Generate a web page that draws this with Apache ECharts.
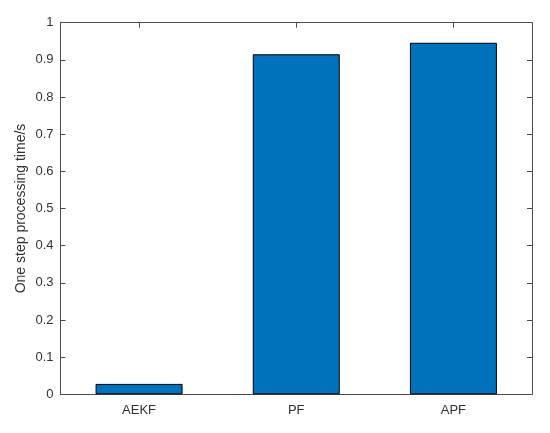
<!DOCTYPE html>
<html>
<head>
<meta charset="utf-8">
<script src="https://cdn.jsdelivr.net/npm/echarts@6/dist/echarts.min.js"></script>
<style>html,body{margin:0;padding:0;background:#fff}#c{width:550px;height:433px}</style>
</head>
<body>
<div id="c"></div>
<script>
const categories = ['AEKF', 'PF', 'APF'];
const values = [0.028, 0.915, 0.946];
const yTicks = [0, 0.1, 0.2, 0.3, 0.4, 0.5, 0.6, 0.7, 0.8, 0.9, 1];
const yLabel = 'One step processing time/s';

const axisColor = '#4d4d4d';
const textColor = '#333333';
const font = 'Liberation Sans, Arial, sans-serif';

const chart = echarts.init(document.getElementById('c'), null, {renderer: 'canvas'});
chart.setOption({
  animation: false,
  backgroundColor: '#ffffff',
  grid: {left: 60.5, right: 18, top: 22.7, bottom: 38.7, containLabel: false},
  xAxis: [
    {
      type: 'category', data: categories, position: 'bottom',
      axisLine: {show: true, onZero: false, lineStyle: {color: axisColor, width: 1}},
      axisTick: {show: true, inside: true, alignWithLabel: true, length: 5, lineStyle: {color: axisColor}},
      axisLabel: {color: textColor, fontSize: 13, fontFamily: font, margin: 10},
      splitLine: {show: false}
    },
    {
      type: 'category', data: categories, position: 'top',
      axisLine: {show: true, onZero: false, lineStyle: {color: axisColor, width: 1}},
      axisTick: {show: true, inside: true, alignWithLabel: true, length: 5, lineStyle: {color: axisColor}},
      axisLabel: {show: false},
      splitLine: {show: false}
    }
  ],
  yAxis: [
    {
      type: 'value', min: yTicks[0], max: yTicks[yTicks.length - 1], interval: 0.1, position: 'left',
      name: yLabel, nameLocation: 'middle', nameGap: 32, nameMoveOverlap: false,
      nameTextStyle: {color: textColor, fontSize: 14, fontFamily: font},
      axisLine: {show: true, onZero: false, lineStyle: {color: axisColor, width: 1}},
      axisTick: {show: true, inside: true, length: 5, lineStyle: {color: axisColor}},
      axisLabel: {color: textColor, fontSize: 13, fontFamily: font, margin: 7,
        formatter: v => (Math.round(v * 10) / 10).toString()},
      splitLine: {show: false}
    },
    {
      type: 'value', min: yTicks[0], max: yTicks[yTicks.length - 1], interval: 0.1, position: 'right',
      axisLine: {show: true, onZero: false, lineStyle: {color: axisColor, width: 1}},
      axisTick: {show: true, inside: true, length: 5, lineStyle: {color: axisColor}},
      axisLabel: {show: false},
      splitLine: {show: false}
    }
  ],
  series: [{
    type: 'bar',
    data: values,
    xAxisIndex: 0, yAxisIndex: 0,
    barWidth: 87,
    itemStyle: {color: '#0072BD', borderColor: '#000000', borderWidth: 1}
  }]
});
</script>
</body>
</html>
